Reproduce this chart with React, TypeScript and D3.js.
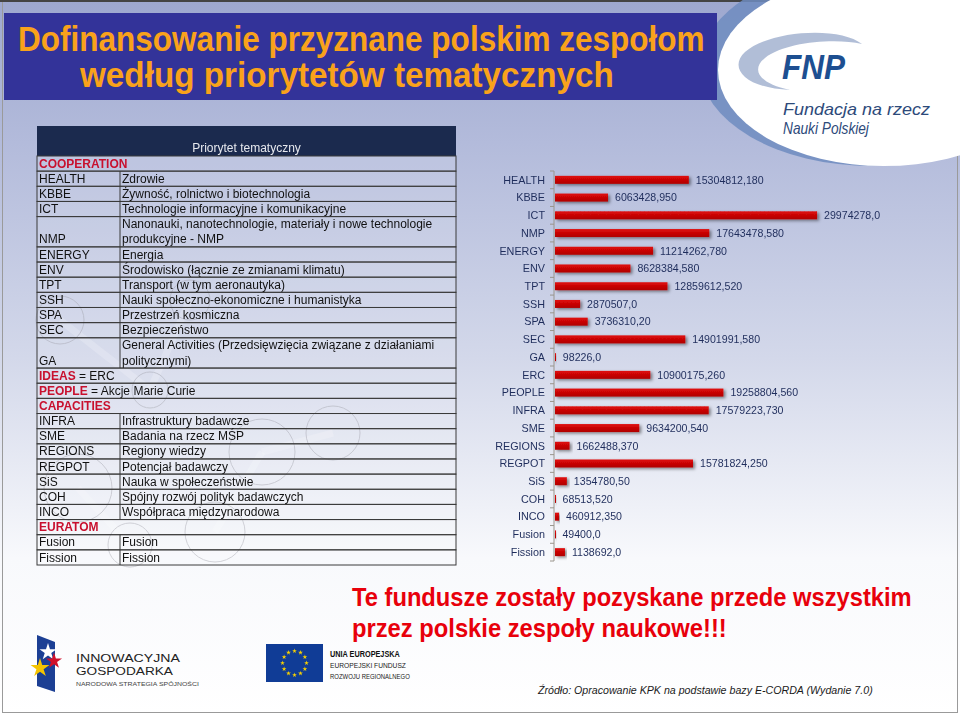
import { useLayoutEffect, useMemo, useRef, useState } from 'react';
import * as d3 from 'd3';

// chart data (EUR)
const categories = [
  'HEALTH', 'KBBE', 'ICT', 'NMP', 'ENERGY', 'ENV', 'TPT', 'SSH', 'SPA', 'SEC', 'GA',
  'ERC', 'PEOPLE', 'INFRA', 'SME', 'REGIONS', 'REGPOT', 'SiS', 'COH', 'INCO', 'Fusion', 'Fission',
];
const funding = [
  15304812.18, 6063428.95, 29974278.0, 17643478.58, 11214262.78, 8628384.58, 12859612.52,
  2870507.0, 3736310.2, 14901991.58, 98226.0, 10900175.26, 19258804.56, 17579223.73,
  9634200.54, 1662488.37, 15781824.25, 1354780.5, 68513.52, 460912.35, 49400.0, 1138692.0,
];
const fundingLabels = [
  '15304812,180', '6063428,950', '29974278,0', '17643478,580', '11214262,780', '8628384,580',
  '12859612,520', '2870507,0', '3736310,20', '14901991,580', '98226,0', '10900175,260',
  '19258804,560', '17579223,730', '9634200,540', '1662488,370', '15781824,250', '1354780,50',
  '68513,520', '460912,350', '49400,0', '1138692,0',
];

// table on the left
type Part = { t: string; red?: boolean };
type Row = { section?: Part[]; code?: string; desc?: string[] };
const tableRows: Row[] = [
  { section: [{ t: 'COOPERATION', red: true }] },
  { code: 'HEALTH', desc: ['Zdrowie'] },
  { code: 'KBBE', desc: ['Żywność, rolnictwo i biotechnologia'] },
  { code: 'ICT', desc: ['Technologie informacyjne i komunikacyjne'] },
  { code: 'NMP', desc: ['Nanonauki, nanotechnologie, materiały i nowe technologie', 'produkcyjne - NMP'] },
  { code: 'ENERGY', desc: ['Energia'] },
  { code: 'ENV', desc: ['Środowisko (łącznie ze zmianami klimatu)'] },
  { code: 'TPT', desc: ['Transport (w tym aeronautyka)'] },
  { code: 'SSH', desc: ['Nauki społeczno-ekonomiczne i humanistyka'] },
  { code: 'SPA', desc: ['Przestrzeń kosmiczna'] },
  { code: 'SEC', desc: ['Bezpieczeństwo'] },
  { code: 'GA', desc: ['General Activities (Przedsięwzięcia związane z działaniami', 'politycznymi)'] },
  { section: [{ t: 'IDEAS', red: true }, { t: ' = ERC' }] },
  { section: [{ t: 'PEOPLE', red: true }, { t: ' = Akcje Marie Curie' }] },
  { section: [{ t: 'CAPACITIES', red: true }] },
  { code: 'INFRA', desc: ['Infrastruktury badawcze'] },
  { code: 'SME', desc: ['Badania na rzecz MŚP'] },
  { code: 'REGIONS', desc: ['Regiony wiedzy'] },
  { code: 'REGPOT', desc: ['Potencjał badawczy'] },
  { code: 'SiS', desc: ['Nauka w społeczeństwie'] },
  { code: 'COH', desc: ['Spójny rozwój polityk badawczych'] },
  { code: 'INCO', desc: ['Współpraca międzynarodowa'] },
  { section: [{ t: 'EURATOM', red: true }] },
  { code: 'Fusion', desc: ['Fusion'] },
  { code: 'Fission', desc: ['Fission'] },
];

const titleLines = ['Dofinansowanie przyznane polskim zespołom', 'według priorytetów tematycznych'];
const noteLines = ['Te fundusze zostały pozyskane przede wszystkim', 'przez polskie zespoły naukowe!!!'];
const sourceText = 'Źródło: Opracowanie KPK na podstawie bazy E-CORDA (Wydanie 7.0)';

const SANS = "'Liberation Sans', Arial, sans-serif";
const INK = '#1f2d5c';

// text squeezed horizontally to a given width (stand-in for a narrow font)
type FitProps = {
  x: number;
  y: number;
  width: number;
  size: number;
  children: string;
  fill: string;
  weight?: number;
  italic?: boolean;
  family?: string;
};
function FitText({ x, y, width, size, children, fill, weight = 400, italic = false, family = SANS }: FitProps) {
  const ref = useRef<SVGTextElement | null>(null);
  const [sx, setSx] = useState(1);
  useLayoutEffect(() => {
    if (!ref.current) return;
    const w = ref.current.getComputedTextLength();
    if (w > 0) setSx(width / w);
  }, [width, children]);
  return (
    <text
      ref={ref}
      transform={`translate(${x},${y}) scale(${sx},1)`}
      fontSize={size}
      fontWeight={weight}
      fontStyle={italic ? 'italic' : 'normal'}
      fontFamily={family}
      fill={fill}
    >
      {children}
    </text>
  );
}

function Molecules() {
  const circles = [
    [78, 488, 34], [130, 545, 22], [215, 532, 30], [262, 452, 33], [333, 433, 27],
    [190, 300, 20], [60, 320, 24], [150, 390, 18],
  ];
  const links = [
    [78, 488, 130, 545], [215, 532, 262, 452], [262, 452, 333, 433], [60, 320, 150, 390], [150, 390, 190, 300],
  ];
  return (
    <g fill="none" stroke="#8c8c96" strokeWidth={1} opacity={0.4}>
      {links.map(([a, b, c, d], i) => (
        <line key={`l${i}`} x1={a} y1={b} x2={c} y2={d} strokeWidth={7} stroke="#ffffff" opacity={0.5} />
      ))}
      {circles.map(([cx, cy, r], i) => (
        <circle key={i} cx={cx} cy={cy} r={r} />
      ))}
    </g>
  );
}

function Table() {
  const left = 37;
  const right = 456;
  const split = 120;
  const top = 126;
  const headBottom = 156;
  const totalLines = d3.sum(tableRows, (r) => (r.desc ? r.desc.length : 1));
  const ly = d3.scaleLinear().domain([0, totalLines]).range([headBottom, 565]);

  let line = 0;
  const rows = tableRows.map((r, i) => {
    const n = r.desc ? r.desc.length : 1;
    const y0 = ly(line);
    const y1 = ly(line + n);
    line += n;
    const lineH = ly(1) - ly(0);
    return (
      <g key={i}>
        <rect x={left} y={y0} width={right - left} height={y1 - y0} fill="rgba(255,255,255,0.12)" stroke="#3a3a3a" strokeWidth={1} />
        {r.section ? (
          <text x={left + 2} y={y1 - 3.5} fontSize={12} fontFamily={SANS}>
            {r.section.map((p, j) => (
              <tspan key={j} fill={p.red ? '#c8102e' : '#111'} fontWeight={p.red ? 700 : 400}>
                {p.t}
              </tspan>
            ))}
          </text>
        ) : (
          <>
            <line x1={split} x2={split} y1={y0} y2={y1} stroke="#3a3a3a" />
            <text x={left + 2} y={y1 - 3.5} fontSize={12} fontFamily={SANS} fill="#111">
              {r.code}
            </text>
            {r.desc!.map((d, j) => (
              <text key={j} x={split + 2} y={y0 + lineH * (j + 1) - 3.5} fontSize={12} fontFamily={SANS} fill="#111">
                {d}
              </text>
            ))}
          </>
        )}
      </g>
    );
  });

  return (
    <g>
      <rect x={left} y={top} width={right - left} height={headBottom - top} fill="#1b2a4e" />
      <text x={(left + right) / 2} y={headBottom - 4} textAnchor="middle" fontSize={12} fontFamily={SANS} fill="#e6e8ee">
        Priorytet tematyczny
      </text>
      {rows}
    </g>
  );
}

function BarChart() {
  const x0 = 554;
  const x = useMemo(() => d3.scaleLinear().domain([0, 30000000]).range([x0, x0 + 262.3]), []);
  const y = useMemo(() => d3.scaleBand().domain(categories).range([171, 561]).paddingInner(0.55).paddingOuter(0.275), []);
  const step = y.step();
  const ticks = d3.range(categories.length + 1).map((i) => 171 + i * step);

  return (
    <g>
      <line x1={x0} x2={x0} y1={171} y2={561} stroke="#9a958c" strokeWidth={1} />
      {ticks.map((t, i) => (
        <line key={i} x1={x0 - 4} x2={x0} y1={t} y2={t} stroke="#9a958c" />
      ))}
      {categories.map((c, i) => {
        const by = y(c)!;
        const cy = by + y.bandwidth() / 2;
        return (
          <g key={c}>
            <rect x={x0 + 1} y={by} width={Math.max(1, x(funding[i]) - x0)} height={y.bandwidth()} fill="url(#barGrad)" filter="url(#barShadow)" />
            <text x={x0 - 9} y={cy + 3.8} textAnchor="end" fontSize={10.8} fontFamily={SANS} fill={INK}>
              {c}
            </text>
            <text x={x(funding[i]) + 8} y={cy + 3.8} fontSize={10.6} fontFamily={SANS} fill={INK}>
              {fundingLabels[i]}
            </text>
          </g>
        );
      })}
    </g>
  );
}

function Logos() {
  const euStars = d3.range(12).map((i) => {
    const a = (i / 12) * Math.PI * 2;
    return [294.5 + Math.cos(a) * 12, 663 + Math.sin(a) * 12];
  });
  const star = d3.symbol().type(d3.symbolStar);
  return (
    <g>
      {/* FNP */}
      <ellipse cx={872} cy={66} rx={172} ry={100} fill="#6f8cc0" opacity={0.85} />
      <ellipse cx={884} cy={70} rx={166} ry={96} fill="#ffffff" />
      <path
        d="M862,44 C840,26 770,30 745,52 C728,68 745,88 790,90 C760,84 750,70 765,58 C785,42 835,38 862,44 Z"
        fill="#a9b7d3"
        opacity={0.9}
      />
      <FitText x={782} y={79} width={63} size={35} weight={700} italic fill="#1d4f91">
        FNP
      </FitText>
      <FitText x={783} y={115} width={147} size={16} italic fill="#2d4a7a">
        Fundacja na rzecz
      </FitText>
      <FitText x={783} y={134} width={86} size={16} italic fill="#2d4a7a">
        Nauki Polskiej
      </FitText>

      {/* Innowacyjna Gospodarka */}
      <path d="M37,635 L55,642 L55,692 L37,686 Z" fill="#1c3f94" />
      <path d={star.size(90)()!} transform="translate(48,652)" fill="#ffffff" />
      <path d={star.size(80)()!} transform="translate(54,661)" fill="#d0102a" />
      <path d={star.size(110)()!} transform="translate(40,668)" fill="#f5c400" />
      <FitText x={76} y={662} width={104} size={11} fill="#222">
        INNOWACYJNA
      </FitText>
      <FitText x={76} y={675} width={97} size={11} fill="#222">
        GOSPODARKA
      </FitText>
      <FitText x={76} y={686} width={123} size={6} fill="#444">
        NARODOWA STRATEGIA SPÓJNOŚCI
      </FitText>

      {/* EU */}
      <rect x={266} y={644} width={57} height={38} fill="#103c96" />
      {euStars.map(([sx, sy], i) => (
        <path key={i} d={star.size(7)()!} transform={`translate(${sx},${sy})`} fill="#f6d000" />
      ))}
      <FitText x={330} y={657} width={70} size={8.5} weight={700} fill="#111">
        UNIA EUROPEJSKA
      </FitText>
      <FitText x={330} y={668} width={76} size={8} fill="#222">
        EUROPEJSKI FUNDUSZ
      </FitText>
      <FitText x={330} y={679} width={80} size={8} fill="#222">
        ROZWOJU REGIONALNEGO
      </FitText>
    </g>
  );
}

export default function App() {
  return (
    <div style={{ position: 'absolute', left: 0, top: 0 }}>
      <svg width={960} height={716} style={{ display: 'block' }}>
        <defs>
          <linearGradient id="bg" x1="0" y1="0" x2="0" y2="1">
            <stop offset="0" stopColor="#9ea8cf" />
            <stop offset="0.2" stopColor="#b3bbdb" />
            <stop offset="0.5" stopColor="#d3d8ea" />
            <stop offset="0.78" stopColor="#f8f9fc" />
            <stop offset="1" stopColor="#ffffff" />
          </linearGradient>
          <linearGradient id="barGrad" x1="0" y1="0" x2="0" y2="1">
            <stop offset="0" stopColor="#e00a0a" />
            <stop offset="1" stopColor="#b00000" />
          </linearGradient>
          <filter id="barShadow" x="-10%" y="-60%" width="130%" height="260%">
            <feDropShadow dx={2} dy={1.5} stdDeviation={1.6} floodColor="#000" floodOpacity={0.45} />
          </filter>
        </defs>

        <rect x={0} y={0} width={960} height={716} fill="url(#bg)" />
        <rect x={2.5} y={0.5} width={955} height={712} fill="none" stroke="#9a9a9a" />
        <line x1={0} x2={960} y1={1} y2={1} stroke="#444" strokeWidth={2} />

        <Logos />
        <Molecules />

        <rect x={4} y={13} width={713} height={87} fill="#333399" />
        <FitText x={18} y={51} width={687} size={35} weight={700} fill="#f9a21b">
          {titleLines[0]}
        </FitText>
        <FitText x={80} y={87} width={534} size={35} weight={700} fill="#f9a21b">
          {titleLines[1]}
        </FitText>

        <Table />
        <BarChart />

        <FitText x={352} y={606} width={560} size={26} weight={700} fill="#e8000b">
          {noteLines[0]}
        </FitText>
        <FitText x={352} y={637} width={375} size={26} weight={700} fill="#e8000b">
          {noteLines[1]}
        </FitText>
        <FitText x={538} y={694} width={335} size={11} italic fill="#1a1a1a">
          {sourceText}
        </FitText>
      </svg>
    </div>
  );
}
